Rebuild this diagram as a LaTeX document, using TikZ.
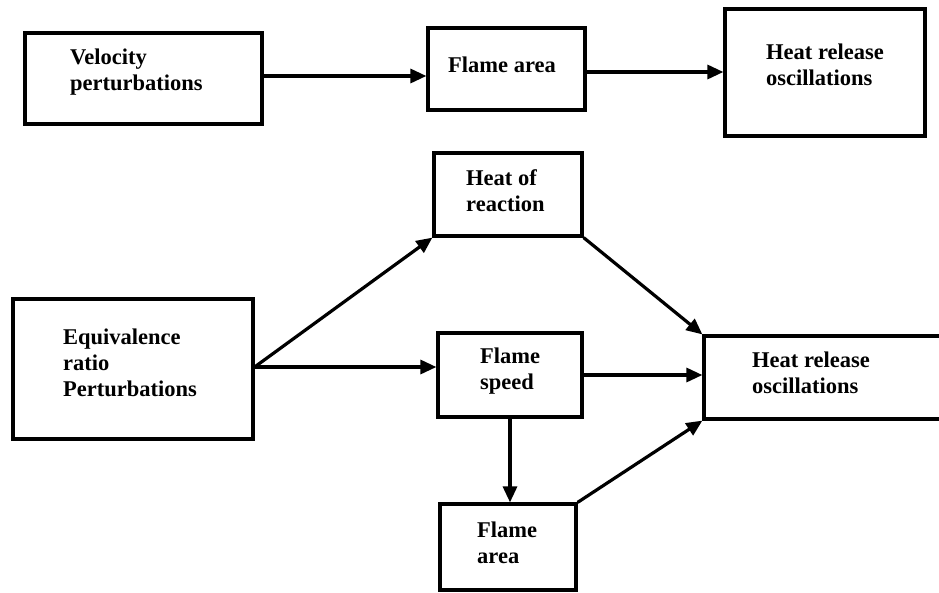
\documentclass[tikz,border=0pt]{standalone}
\usepackage{fontspec}
\setmainfont{Liberation Serif}
\usetikzlibrary{arrows.meta,calc}
\tikzset{
  box/.style={draw, line width=3.2pt, rectangle, inner sep=0pt, anchor=center},
  lbl/.style={anchor=west, align=left, inner sep=0pt, font=\fontsize{22.5}{26}\selectfont\bfseries},
  conn/.style={line width=3.2pt, -{Triangle[length=16pt,width=14pt]}}
}
\begin{document}
\begin{tikzpicture}[x=1pt,y=-1pt]
\clip (0,0) rectangle (939,592);
\fill[white] (0,0) rectangle (939,592);
% boxes
\node[box, minimum width=237pt, minimum height=91pt] (v) at (143.5,78.5) {};
\node[box, minimum width=157pt, minimum height=82pt] (fa1) at (506.5,69) {};
\node[box, minimum width=200pt, minimum height=127pt] (hr1) at (825,72.5) {};
\node[box, minimum width=148pt, minimum height=83pt] (hor) at (508,194.5) {};
\node[box, minimum width=240pt, minimum height=140pt] (eq) at (133,369) {};
\node[box, minimum width=144pt, minimum height=84pt] (fs) at (510,375) {};
\node[box, minimum width=136pt, minimum height=86pt] (fa2) at (508,547) {};
\node[box, minimum width=260pt, minimum height=83pt] (hr2) at (834,377.5) {};
% labels
\node[lbl] (tv) at (70,72) {Velocity\\perturbations};
\node[lbl] (tfa1) at (448,65) {Flame area};
\node[lbl] (thr1) at (766,65) {Heat release\\oscillations};
\node[lbl] (thor) at (466,191) {Heat of\\reaction};
\node[lbl] (teq) at (63,363) {Equivalence\\ratio\\Perturbations};
\node[lbl] (tfs) at (480,371) {Flame\\speed};
\node[lbl] (tfa2) at (477,543) {Flame\\area};
\node[lbl] (thr2) at (752,373) {Heat release\\oscillations};
% connectors
\draw[conn] ($(v.east)+(0,-2.5)$) -- ($(v.east -| fa1.west)+(0,-2.5)$);
\draw[conn] ($(fa1.east)+(0,3)$) -- ($(fa1.east -| hr1.west)+(0,3)$);
\draw[conn] ($(eq.east)+(0,-2)$) -- (hor.south west);
\draw[conn] ($(eq.east)+(0,-2)$) -- ($(eq.east -| fs.west)+(0,-2)$);
\draw[conn] (hor.south east) -- (hr2.north west);
\draw[conn] (fs.east) -- (fs.east -| hr2.west);
\draw[conn] (fs.south) -- (fs.south |- fa2.north);
\draw[conn] (fa2.north east) -- (hr2.south west);
\end{tikzpicture}
\end{document}
